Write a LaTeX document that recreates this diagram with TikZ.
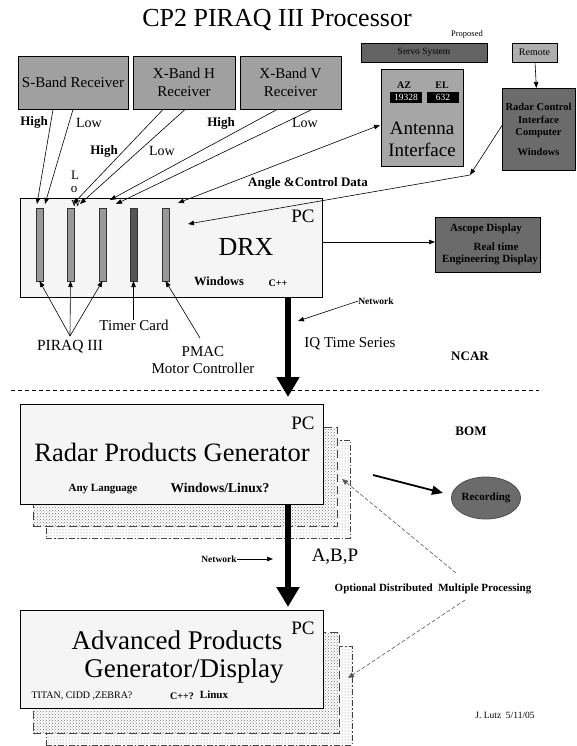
\documentclass[tikz,border=0pt]{standalone}
\usepackage{fontspec}
\setmainfont{Liberation Serif}
\usetikzlibrary{arrows.meta,patterns,shapes.geometric}
\newcommand\myfs[2]{\fontsize{#1}{#2}\selectfont}
\definecolor{recgray}{HTML}{A0A0A0}
\definecolor{antgray}{HTML}{A6A6A6}
\definecolor{darkg}{HTML}{6B6B6B}
\definecolor{servog}{HTML}{636363}
\definecolor{pcfill}{HTML}{F5F5F5}
\definecolor{cardg}{HTML}{999999}
\definecolor{cardd}{HTML}{555555}
\begin{document}
\begin{tikzpicture}[x=1pt,y=-1pt,
  every node/.style={inner sep=0pt,outer sep=0pt},
  txt/.style={align=center},
  gbox/.style={draw=black,line width=0.9pt,fill=recgray,align=center},
  dbox/.style={draw=black,line width=0.9pt,fill=darkg,align=center},
  pcbox/.style={draw=black,line width=0.9pt,fill=pcfill},
  cardbox/.style={draw=black!80,line width=0.7pt,fill=cardg,minimum width=7pt,minimum height=73pt},
  layerA/.style={draw=black!75,line width=0.8pt,dash pattern=on 8pt off 4pt,fill=white,postaction={pattern=crosshatch dots,pattern color=black!55}},
  layerB/.style={draw=black!75,line width=0.8pt,dash pattern=on 6pt off 2pt on 1.5pt off 2pt,fill=white,postaction={pattern=dots,pattern color=black!50}},
  arr/.style={line width=0.6pt,-{Triangle[length=6pt,width=4.5pt]}},
  dblarr/.style={line width=0.6pt,{Triangle[length=6pt,width=4.5pt]}-{Triangle[length=6pt,width=4.5pt]}},
  thickarr/.style={line width=6pt,-{Triangle[length=20pt,width=22pt]}},
  grayarr/.style={line width=0.6pt,draw=black!65,dash pattern=on 4pt off 2pt,-{Triangle[length=6pt,width=5pt]}},
  bl/.style={font=\bfseries}]
\useasboundingbox (0,0) rectangle (576,746);

% title
\node[txt] (title) at (277,20) {\myfs{26}{28}CP2 PIRAQ III Processor};
\node[txt] (proposed) at (467,34) {\myfs{8.5}{9}Proposed};

% top boxes
\node[gbox,fill=servog,minimum width=126pt,minimum height=19pt] (servo) at (424,52.5) {\myfs{9.5}{10}Servo System};
\node[gbox,fill=recgray!85!white,minimum width=45pt,minimum height=19pt] (remote) at (534.5,52.5) {\myfs{10}{10}Remote};
\node[gbox,minimum width=110pt,minimum height=53pt,font=\myfs{15}{17.5}] (sband) at (73,82.5) {S-Band Receiver};
\node[gbox,minimum width=102pt,minimum height=53pt,font=\myfs{15}{17.5}] (xh) at (184,82.5) {X-Band H\\Receiver};
\node[gbox,minimum width=101pt,minimum height=53pt,font=\myfs{15}{17.5}] (xv) at (290.5,82.5) {X-Band V\\Receiver};
\node[gbox,fill=antgray,minimum width=82pt,minimum height=97pt] (ant) at (422,117.5) {};
\node[txt,bl] (az) at (404,85) {\myfs{10}{10}AZ};
\node[txt,bl] (el) at (442,85) {\myfs{10}{10}EL};
\node[fill=black,minimum width=32pt,minimum height=11pt,text=white] (azv) at (406,97.5) {\myfs{9.5}{10}19328};
\node[fill=black,minimum width=32pt,minimum height=11pt,text=white] (elv) at (443,97.5) {\myfs{9.5}{10}632};
\node[txt] (antt) at (422,128) {\myfs{19}{20}Antenna};
\node[txt] (anti) at (422,150) {\myfs{19}{20}Interface};
\node[dbox,minimum width=73pt,minimum height=82pt] (rcic) at (538.5,129) {};
\node[txt,bl] (rc1) at (538.5,107) {\myfs{10.5}{11}Radar Control};
\node[txt,bl] (rc2) at (538.5,120) {\myfs{10.5}{11}Interface};
\node[txt,bl] (rc3) at (538.5,133) {\myfs{10.5}{11}Computer};
\node[txt,bl] (rc4) at (538.5,152) {\myfs{10.5}{11}Windows};
\draw[arr] (remote) -- (rcic);

% receiver labels
\node[txt,bl] at (34,122) {\myfs{13}{13}High};
\node[txt] at (89,123) {\myfs{14}{14}Low};
\node[txt,bl] at (104,151) {\myfs{13}{13}High};
\node[txt] at (162,151) {\myfs{14}{14}Low};
\node[txt,bl] at (221,123) {\myfs{13}{13}High};
\node[txt] at (305,123) {\myfs{14}{14}Low};
\node[txt] at (75,175) {\myfs{13}{13}L};
\node[txt] at (74,190) {\myfs{13}{13}o};
\node[txt,bl] (acd) at (308,183) {\myfs{13}{13}Angle \&Control Data};

% DRX
\node[pcbox,minimum width=302pt,minimum height=99pt] (drx) at (171,247.5) {};
\node[cardbox] (c1) at (39.5,244.5) {};
\node[cardbox] (c2) at (70.5,244.5) {};
\node[cardbox] (c3) at (102.5,244.5) {};
\node[cardbox,fill=cardd] (c4) at (133.5,244.5) {};
\node[cardbox] (c5) at (165.5,244.5) {};
\node[txt] (pc1) at (303,216) {\myfs{19}{19}PC};
\node[txt] (drxt) at (246,247) {\myfs{26}{26}DRX};
\node[txt,bl] (win1) at (219,281) {\myfs{12.5}{13}Windows};
\node[txt,bl] (cpp1) at (278,283) {\myfs{10}{10}C++};
\node[txt] at (76,204) {\myfs{13}{13}w};

% receiver connectors
\coordinate (sh) at (53,109.5); \coordinate (shE) at (37,204);
\coordinate (sl) at (73,109.5); \coordinate (slE) at (45,204);
\coordinate (hh) at (163,109.5); \coordinate (hhE) at (73,204);
\coordinate (hl) at (185,109.5); \coordinate (hlE) at (80,204);
\coordinate (vh) at (277,109.5); \coordinate (vhE) at (110,200);
\coordinate (vl) at (312,109.5); \coordinate (vlE) at (116,204);
\draw[arr] (sh) -- (shE);
\draw[arr] (sl) -- (slE);
\draw[arr] (hh) -- (hhE);
\draw[arr] (hl) -- (hlE);
\draw[arr] (vh) -- (vhE);
\draw[arr] (vl) -- (vlE);
\coordinate (antL) at (380,125); \coordinate (drxA) at (178,203);
\draw[dblarr] (drxA) -- (antL);
\coordinate (rcL) at (503,124); \coordinate (pp) at (470,175); \coordinate (drxB) at (188,224);
\draw[arr] (rcL) -- (pp);
\draw[arr] (pp) -- (drxB);

% card labels
\node[txt] (piraq) at (70,347) {\myfs{15.5}{16}PIRAQ III};
\coordinate (pap) at (70,336);
\draw[arr] (pap) -- (c1.south);
\draw[arr] (pap) -- (c2.south);
\draw[arr] (pap) -- (c3.south);
\node[txt] (timer) at (134,325) {\myfs{15}{16}Timer Card};
\draw[arr] (timer.north -| c4.south) -- (c4.south);
\node[txt,font=\myfs{15}{17}] (pmac) at (203,360) {PMAC\\Motor Controller};
\coordinate (pmacT) at (200,338);
\draw[arr] (pmacT) -- (c5.south);

% Ascope
\node[dbox,minimum width=105pt,minimum height=55pt] (ascope) at (487.5,244.5) {};
\node[txt,bl] at (486,229) {\myfs{11}{11}Ascope Display};
\node[txt,bl] at (496,247) {\myfs{11}{11}Real time};
\node[txt,bl] at (490,260) {\myfs{11}{11}Engineering Display};
\draw[arr] (drx.east |- 0,242) -- (ascope.west |- 0,242);

% network / IQ
\node[txt,bl] (net1) at (376,301) {\myfs{9.5}{10}Network};
\coordinate (net1e) at (298,321);
\draw[arr] (net1.west) -- (net1e);
\node[txt] (iq) at (350,344) {\myfs{15}{16}IQ Time Series};
\node[txt,bl] (ncar) at (470,356) {\myfs{13}{13}NCAR};

% divider
\coordinate (dvl) at (11,390); \coordinate (dvr) at (539,390);

% RPG stack
\node[layerB,minimum width=304pt,minimum height=98pt] (rpgB) at (198,489) {};
\node[layerA,minimum width=304pt,minimum height=99pt] (rpgA) at (185,476.5) {};
\node[pcbox,minimum width=303pt,minimum height=100pt] (rpg) at (171.5,454) {};
\node[txt] (pc2) at (303,423) {\myfs{19}{19}PC};
\node[txt] (rpgt) at (172,452) {\myfs{26.5}{27}Radar Products Generator};
\node[txt,bl] at (103,489) {\myfs{11}{11}Any Language};
\node[txt,bl] at (220,488) {\myfs{13.5}{14}Windows/Linux?};

\coordinate (t1) at (288,0);
\draw[thickarr,shorten >=7pt] (drx.south -| t1) -- (rpg.north -| t1);
\draw[line width=0.8pt,dash pattern=on 4pt off 3pt] (dvl) -- (dvr);

\node[txt,bl] (bom) at (471,431) {\myfs{13}{13}BOM};
\node[ellipse,draw=black!70,line width=0.8pt,fill=darkg,minimum width=68pt,minimum height=42pt] (recd) at (486,498) {\myfs{11}{11}\bfseries Recording};
\coordinate (recfrom) at (373,475); \coordinate (rectip) at (443,493);
\draw[line width=1.8pt,-{Triangle[length=11pt,width=9pt]}] (recfrom) -- (rectip);

% APG stack
\node[layerB,minimum width=306pt,minimum height=99pt] (apgB) at (199,695.5) {};
\node[layerA,minimum width=306pt,minimum height=101pt] (apgA) at (186,682.5) {};
\node[pcbox,minimum width=303pt,minimum height=98pt] (apg) at (171.5,659) {};
\node[txt] (pc3) at (303,628) {\myfs{19}{19}PC};
\node[txt] (apg1) at (177,640) {\myfs{27}{27}Advanced Products};
\node[txt] (apg2) at (184,671) {\myfs{27}{27}Generator/Display};
\node[txt] at (82,696) {\myfs{10}{10}TITAN, CIDD ,ZEBRA?};
\node[txt,bl] at (182,696) {\myfs{10}{10}C++?};
\node[txt,bl] at (214,695) {\myfs{11}{11}Linux};

\draw[thickarr,shorten >=3pt] (rpg.south -| t1) -- (apg.north -| t1);
\node[txt] (abp) at (335,557) {\myfs{19}{19}A,B,P};
\node[txt,bl] (net2) at (219,559) {\myfs{9.5}{10}Network};
\coordinate (net2e) at (273,559);
\draw[arr] (net2.east) -- (net2e);

% optional distributed
\node[txt,bl] (opt) at (433,589) {\myfs{11}{11}Optional Distributed\ \ Multiple Processing};
\coordinate (o1s) at (456,573); \coordinate (o1e) at (342,479);
\coordinate (o2s) at (465,600); \coordinate (o2e) at (348,678);
\draw[grayarr] (o1s) -- (o1e);
\draw[grayarr] (o2s) -- (o2e);

\node[txt] (author) at (505,715) {\myfs{9.5}{10}J. Lutz\ \ 5/11/05};
\end{tikzpicture}
\end{document}
